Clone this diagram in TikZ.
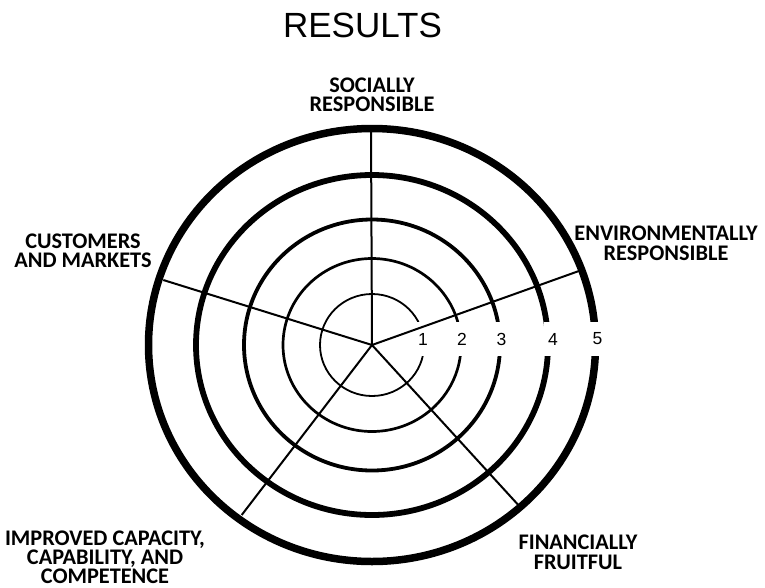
\documentclass[tikz,border=0pt]{standalone}
\usepackage{fontspec}
\setmainfont{Liberation Sans}
\newfontfamily\areafont{Carlito}
\usepackage{tikz}
\tikzset{
  area/.style={font={\areafont\bfseries\fontsize{22.3pt}{19.5pt}\selectfont}, align=center, anchor=north, inner sep=0pt},
  score/.style={font={\fontsize{17.5pt}{18pt}\selectfont}, fill=white, minimum width=18pt, minimum height=34pt, inner sep=0pt}}

\begin{document}
\begin{tikzpicture}[x=1pt, y=-1pt, spoke/.style={line width=2pt}]
\useasboundingbox (0,0) rectangle (765,587);
\node[font=\fontsize{35pt}{40pt}\selectfont, anchor=north, inner sep=0pt] (title) at (362.5,13.3) {RESULTS};

\coordinate (c) at (372,345);
% rings, thin inside to thick outside
\foreach \a/\b/\w in {52/51/1.8, 89/86.5/2.7, 128/125.5/3.8, 176/170/5.8, 223.5/216.5/7.5}
  \draw[line width=\w pt] (c) ellipse [x radius=\a, y radius=\b];

% score numbers cut the rings
\foreach \x/\n in {423/1, 462/2, 501.5/3, 553/4, 597.5/5}
  \node[score] (n\n) at (\x,339) {\n};

% spokes
\coordinate (soc) at (371,130);
\coordinate (env) at (581.7,270);
\coordinate (cus) at (163.3,280);
\coordinate (imp) at (241.7,515);
\coordinate (fin) at (518.3,505);
\foreach \e in {soc,env,cus,imp,fin}
  \draw[spoke] (c) -- (\e);

\node[area] (socl) at (372,77.3) {SOCIALLY\\RESPONSIBLE};
\node[area] (envl) at (666,226) {ENVIRONMENTALLY\\RESPONSIBLE};
\node[area] (cusl) at (83,233.3) {CUSTOMERS\\AND MARKETS};
\node[area, font={\areafont\bfseries\fontsize{22.3pt}{17.5pt}\selectfont}] (impl) at (105,531) {IMPROVED CAPACITY,\\CAPABILITY, AND\\COMPETENCE};
\node[area] (finl) at (578,535) {FINANCIALLY\\FRUITFUL};
\end{tikzpicture}
\end{document}
